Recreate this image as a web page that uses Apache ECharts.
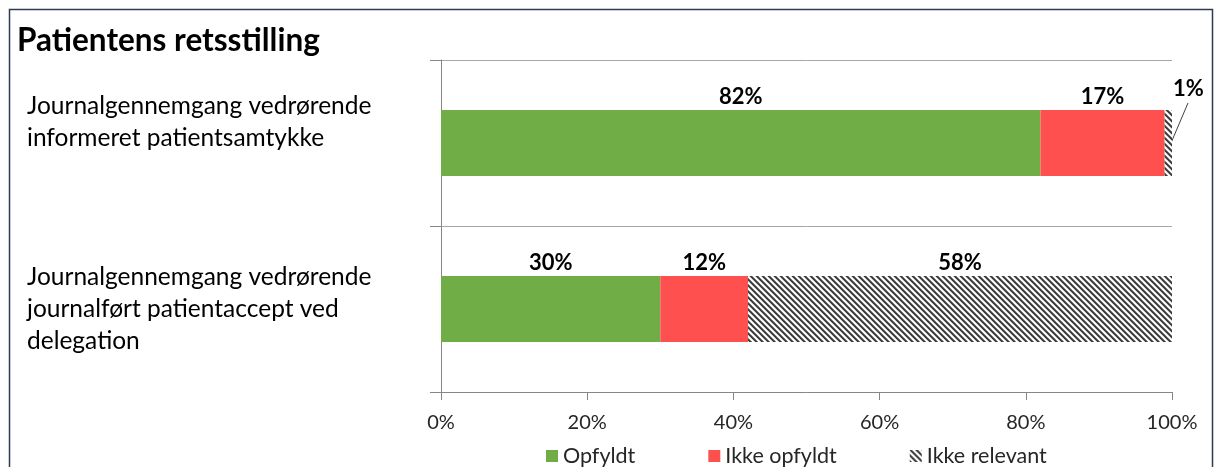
<!DOCTYPE html>
<html>
<head>
<meta charset="utf-8">
<title>Patientens retsstilling</title>
<script src="https://cdn.jsdelivr.net/npm/echarts@6/dist/echarts.min.js"></script>
<style>
  html, body { margin: 0; padding: 0; background: #ffffff; }
  #chart { width: 1219px; height: 467px; }
</style>
</head>
<body>
<div id="chart"></div>
<script>
// Categories (top to bottom)
const categories = [
  'Journalgennemgang vedrørende\ninformeret patientsamtykke',
  'Journalgennemgang vedrørende\njournalført patientaccept ved\ndelegation'
];
// Shares in percent per category
const opfyldt = [82, 30];
const ikkeOpfyldt = [17, 12];
const ikkeRelevant = [1, 58];
const seriesNames = ['Opfyldt', 'Ikke opfyldt', 'Ikke relevant'];
const xTicks = [0, 20, 40, 60, 80, 100];

const FONT = 'Lato';

// Diagonal hatch tile for "Ikke relevant"
function makeHatch() {
  const size = 6;
  const c = document.createElement('canvas');
  c.width = size; c.height = size;
  const ctx = c.getContext('2d');
  const img = ctx.createImageData(size, size);
  for (let y = 0; y < size; y++) {
    for (let x = 0; x < size; x++) {
      const k = ((x - y) % size + size) % size;
      let v = 255;
      if (k === 0 || k === 1) v = 60;
      else if (k === 2) v = 130;
      else if (k === 5) v = 200;
      const i = (y * size + x) * 4;
      img.data[i] = v; img.data[i + 1] = v; img.data[i + 2] = v; img.data[i + 3] = 255;
    }
  }
  ctx.putImageData(img, 0, 0);
  return { image: c, repeat: 'repeat' };
}
const hatch = makeHatch();

const chart = echarts.init(document.getElementById('chart'), null, { renderer: 'canvas' });

const labelStyle = {
  show: true,
  position: 'top',
  distance: 2,
  formatter: '{c}%',
  fontFamily: FONT,
  fontWeight: 'bold',
  fontSize: 22,
  color: '#000000'
};

// Offset of the small "1%" label from its default spot
const smallLabelShift = { dx: 20, dy: -8 };

// Category text: the first one sits higher in its band (extra blank space below it)
function categoryLabel(value, index) {
  const lines = value.split('\n').map(function (s) { return '{t|' + s + '}'; });
  if (index === 0) lines.push('{gap| }');
  return lines.join('\n');
}

const option = {
  animation: false,
  backgroundColor: '#ffffff',
  textStyle: { fontFamily: FONT },
  title: {
    text: 'Patientens retsstilling',
    left: 12,
    top: 20,
    textStyle: { fontFamily: FONT, fontWeight: 'bold', fontSize: 31.5, color: '#000000' }
  },
  legend: {
    data: seriesNames,
    left: 541,
    top: 440,
    itemWidth: 12,
    itemHeight: 12,
    itemGap: 73,
    icon: 'rect',
    textStyle: { fontFamily: FONT, fontSize: 21.5, color: '#262626' }
  },
  grid: { left: 441, right: 47, top: 60, bottom: 75, outerBoundsMode: 'none', containLabel: false },
  xAxis: {
    type: 'value',
    min: 0,
    max: 100,
    interval: 20,
    axisLine: { show: true, lineStyle: { color: '#868686', width: 1 } },
    axisTick: { show: true, length: 8, lineStyle: { color: '#868686' } },
    splitLine: { show: false },
    axisLabel: {
      margin: 21,
      fontFamily: FONT,
      fontSize: 20,
      color: '#262626',
      formatter: function (v) { return xTicks.indexOf(v) >= 0 ? v + '%' : ''; }
    }
  },
  yAxis: {
    type: 'category',
    inverse: true,
    data: categories,
    axisLine: { show: true, lineStyle: { color: '#868686', width: 1 } },
    axisTick: { show: true, length: 11, lineStyle: { color: '#868686' } },
    splitLine: { show: true, lineStyle: { color: '#a6a6a6', width: 1 } },
    axisLabel: {
      align: 'left',
      margin: 414,
      formatter: categoryLabel,
      rich: {
        t: { fontFamily: FONT, fontSize: 24.5, lineHeight: 32, height: 32, color: '#000000', align: 'left' },
        gap: { fontFamily: FONT, fontSize: 12, lineHeight: 42, height: 42 }
      }
    }
  },
  series: [
    {
      name: seriesNames[0],
      type: 'bar',
      stack: 'total',
      barWidth: 66,
      data: opfyldt,
      itemStyle: { color: '#70ad47' },
      label: labelStyle
    },
    {
      name: seriesNames[1],
      type: 'bar',
      stack: 'total',
      barWidth: 66,
      data: ikkeOpfyldt,
      itemStyle: { color: '#ff5050' },
      label: labelStyle
    },
    {
      name: seriesNames[2],
      type: 'bar',
      stack: 'total',
      barWidth: 66,
      data: ikkeRelevant,
      itemStyle: { color: hatch },
      label: labelStyle,
      labelLayout: function (p) {
        return p.dataIndex === 0 ? smallLabelShift : {};
      }
    }
  ]
};

chart.setOption(option);

// Frame around the chart and the leader line for the "1%" label
const total0 = opfyldt[0] + ikkeOpfyldt[0] + ikkeRelevant[0];
const barEnd = chart.convertToPixel({ gridIndex: 0 }, [total0, 0]);
chart.setOption({
  graphic: [
    {
      type: 'polyline',
      silent: true,
      shape: { points: [[9.5, 480], [9.5, 9.5], [1212.5, 9.5], [1212.5, 480]] },
      style: { stroke: '#2e3a52', lineWidth: 1.5, fill: null }
    },
    {
      type: 'line',
      silent: true,
      shape: { x1: barEnd[0] - 1, y1: barEnd[1], x2: barEnd[0] + 16, y2: barEnd[1] - 40 },
      style: { stroke: '#404040', lineWidth: 1 }
    }
  ]
});
</script>
</body>
</html>
